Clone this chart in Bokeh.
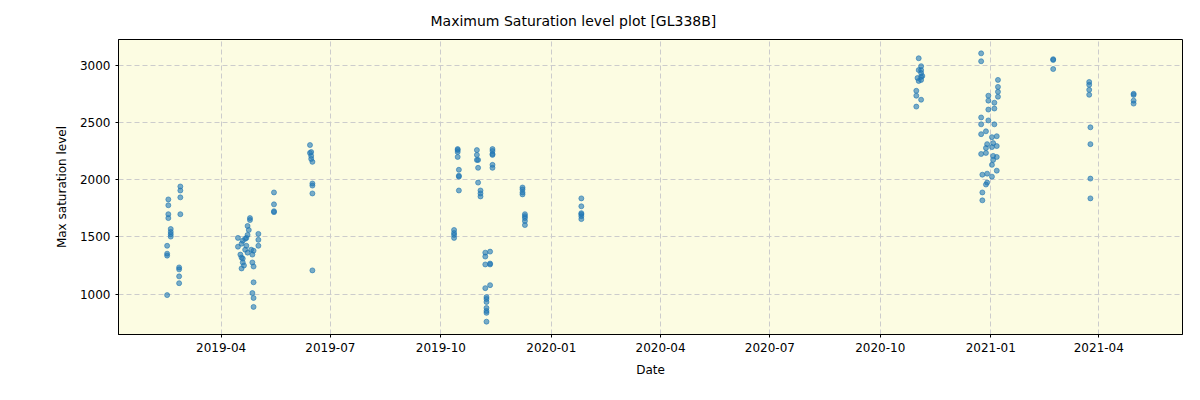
import pandas as pd
from datetime import datetime
from bokeh.plotting import figure
from bokeh.models import (MonthsTicker, DatetimeTickFormatter,
                          FixedTicker, Range1d, ColumnDataSource)
from bokeh.embed import file_html
from bokeh.resources import INLINE

title_text = "Maximum Saturation level plot [GL338B]"
x_label = "Date"
y_label = "Max saturation level"
y_ticks = [1000, 1500, 2000, 2500, 3000]
tick_months = [0, 3, 6, 9]  # Jan, Apr, Jul, Oct (0-based)

dates = [
    "2019-02-15", "2019-02-15", "2019-02-15", "2019-02-15",
    "2019-02-16", "2019-02-16", "2019-02-16", "2019-02-16",
    "2019-02-18", "2019-02-18", "2019-02-18", "2019-02-18",
    "2019-02-25", "2019-02-25", "2019-02-25", "2019-02-25",
    "2019-02-26", "2019-02-26", "2019-02-26", "2019-02-26",
    "2019-04-25", "2019-04-25", "2019-04-23", "2019-04-24", "2019-04-23",
    "2019-04-22", "2019-04-15", "2019-04-21", "2019-04-19", "2019-04-18",
    "2019-04-22", "2019-04-15", "2019-04-21", "2019-04-26", "2019-04-28",
    "2019-04-23", "2019-04-17", "2019-04-27", "2019-04-18", "2019-04-19",
    "2019-04-19", "2019-04-27", "2019-04-20", "2019-04-28", "2019-04-18",
    "2019-04-28", "2019-04-27", "2019-04-28", "2019-04-28",
    "2019-05-02", "2019-05-02", "2019-05-02",
    "2019-05-15", "2019-05-15", "2019-05-15", "2019-05-15",
    "2019-06-14", "2019-06-14", "2019-06-15", "2019-06-15", "2019-06-15",
    "2019-06-16", "2019-06-16", "2019-06-16", "2019-06-16", "2019-06-16",
    "2019-10-12", "2019-10-12", "2019-10-12", "2019-10-12",
    "2019-10-15", "2019-10-15", "2019-10-15", "2019-10-15",
    "2019-10-16", "2019-10-16", "2019-10-16", "2019-10-16",
    "2019-10-31", "2019-10-31", "2019-10-31",
    "2019-11-01", "2019-11-01", "2019-11-01",
    "2019-11-03", "2019-11-03", "2019-11-03",
    "2019-11-13", "2019-11-13", "2019-11-13", "2019-11-13", "2019-11-13", "2019-11-13",
    "2019-11-07", "2019-11-07", "2019-11-07", "2019-11-07",
    "2019-11-11", "2019-11-11", "2019-11-11", "2019-11-11",
    "2019-11-08", "2019-11-08", "2019-11-08", "2019-11-08", "2019-11-08", "2019-11-08", "2019-11-08",
    "2019-12-08", "2019-12-08", "2019-12-08", "2019-12-08",
    "2019-12-10", "2019-12-10", "2019-12-10", "2019-12-10", "2019-12-10",
    "2020-01-26", "2020-01-26", "2020-01-26", "2020-01-26", "2020-01-26", "2020-01-26",
    "2020-11-02", "2020-11-04", "2020-11-02", "2020-11-04", "2020-11-04",
    "2020-11-05", "2020-11-04", "2020-11-01", "2020-11-02", "2020-11-04",
    "2020-10-31", "2020-10-31", "2020-11-04", "2020-10-31",
    "2020-12-24", "2020-12-24", "2021-01-07", "2021-01-07", "2021-01-07", "2021-01-07",
    "2020-12-30", "2020-12-30", "2021-01-04", "2021-01-04", "2020-12-30",
    "2020-12-24", "2020-12-24", "2020-12-30", "2021-01-04", "2020-12-28",
    "2020-12-24", "2021-01-06", "2021-01-02", "2021-01-03", "2020-12-29",
    "2021-01-06", "2021-01-02", "2020-12-28", "2020-12-28", "2020-12-24",
    "2021-01-03", "2021-01-06", "2021-01-03", "2021-01-02", "2021-01-06",
    "2020-12-25", "2020-12-29", "2021-01-02", "2020-12-29", "2020-12-28",
    "2020-12-25", "2020-12-25",
    "2021-02-22", "2021-02-22", "2021-02-22",
    "2021-03-24", "2021-03-24", "2021-03-24", "2021-03-24",
    "2021-03-25", "2021-03-25", "2021-03-25", "2021-03-25",
    "2021-04-30", "2021-04-30", "2021-04-30", "2021-04-30",
]

max_sat = [
    1422, 1353, 1336, 991,
    1827, 1776, 1698, 1664,
    1569, 1543, 1523, 1502,
    1233, 1216, 1155, 1095,
    1940, 1905, 1845, 1698,
    1664, 1647, 1595, 1560, 1517,
    1491, 1491, 1483, 1466, 1440,
    1422, 1414, 1388, 1388, 1379,
    1362, 1345, 1345, 1319, 1310,
    1276, 1276, 1250, 1241, 1224,
    1103, 1009, 966, 888,
    1526, 1474, 1422,
    1888, 1784, 1724, 1716,
    2302, 2233, 2241, 2207, 2181,
    2155, 1966, 1948, 1879, 1207,
    1560, 1534, 1517, 1491,
    2267, 2258, 2241, 2198,
    2086, 2034, 2026, 1905,
    2258, 2216, 2172,
    2172, 2103, 1974,
    1905, 1879, 1853,
    2267, 2250, 2224, 2216, 2129, 2103,
    1362, 1328, 1259, 1052,
    1371, 1267, 1259, 1078,
    974, 957, 931, 879, 853, 836, 759,
    1931, 1914, 1888, 1871,
    1698, 1681, 1664, 1638, 1603,
    1836, 1767, 1707, 1698, 1681, 1655,
    3060, 2991, 2957, 2957, 2931,
    2905, 2897, 2888, 2862, 2871,
    2776, 2733, 2698, 2638,
    3103, 3034, 2871, 2810, 2767, 2724,
    2733, 2690, 2672, 2621, 2612,
    2543, 2483, 2517, 2483, 2422,
    2397, 2379, 2371, 2319, 2310,
    2293, 2284, 2276, 2233, 2224,
    2207, 2198, 2172, 2129, 2078,
    2043, 2052, 2026, 1974, 1957,
    1888, 1819,
    3052, 3045, 2966,
    2853, 2828, 2784, 2741,
    2457, 2310, 2009, 1836,
    2750, 2740, 2690, 2664,
]

src = ColumnDataSource(dict(date=pd.to_datetime(dates), val=max_sat))

p = figure(width=1184, height=384, output_backend="svg", toolbar_location=None,
           x_axis_type="datetime",
           x_range=Range1d(datetime(2019, 1, 5, 12), datetime(2021, 6, 9, 17)),
           y_range=Range1d(647, 3224),
           min_border_left=118, min_border_right=2, min_border_top=38, min_border_bottom=50)

p.scatter("date", "val", source=src, size=5, fill_color="#1f77b4", fill_alpha=0.6,
          line_color="#1f77b4", line_alpha=0.6)

p.background_fill_color = "#fcfce2"
p.border_fill_color = "white"
p.outline_line_color = "black"
p.outline_line_width = 1

p.title.text = title_text
p.title.align = "left"
p.title.offset = 312
p.title.standoff = 21
p.title.text_font = "DejaVu Sans"
p.title.text_font_size = "14px"
p.title.text_font_style = "normal"
p.title.text_color = "black"

p.xaxis.ticker = MonthsTicker(months=tick_months)
p.xaxis.formatter = DatetimeTickFormatter(months="%Y-%m", days="%Y-%m", years="%Y-%m")
p.yaxis.ticker = FixedTicker(ticks=y_ticks)

p.xaxis.axis_label = x_label
p.yaxis.axis_label = y_label
for ax in (p.xaxis, p.yaxis):
    ax.axis_label_text_font = "DejaVu Sans"
    ax.axis_label_text_font_size = "12px"
    ax.axis_label_text_font_style = "normal"
    ax.axis_label_text_color = "black"
    ax.major_label_text_font = "DejaVu Sans"
    ax.major_label_text_font_size = "12px"
    ax.major_label_text_color = "black"
    ax.major_tick_out = 3
    ax.major_tick_in = 0
    ax.minor_tick_out = 0
    ax.minor_tick_in = 0
    ax.axis_line_color = "black"
    ax.major_tick_line_color = "black"
p.xaxis.axis_label_standoff = 8
p.yaxis.axis_label_standoff = 8

p.xgrid.ticker = p.xaxis.ticker
p.grid.grid_line_color = "#cccccc"
p.grid.grid_line_dash = "5 3"
p.grid.grid_line_width = 1

open("out.html", "w").write(file_html(p, INLINE))
